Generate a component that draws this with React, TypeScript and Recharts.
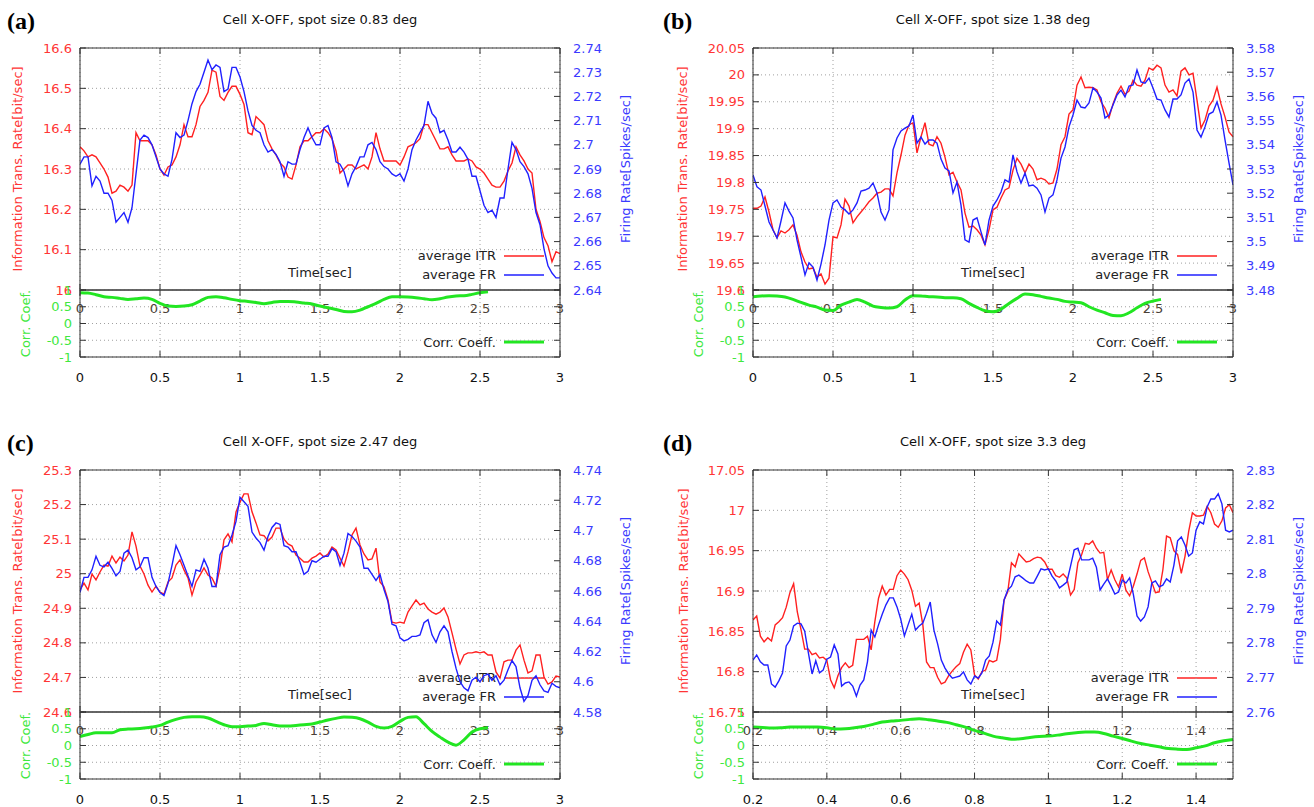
import React from "react";
import { LineChart, Line, XAxis, YAxis, CartesianGrid } from "recharts";

// information transmission rate vs firing rate, 4 spot sizes
const A_ITR = [
  16.355, 16.345, 16.33, 16.335, 16.33, 16.315, 16.3, 16.28, 16.24, 16.245,
  16.26, 16.255, 16.245, 16.26, 16.39, 16.37, 16.37, 16.37, 16.36, 16.335,
  16.3, 16.285, 16.305, 16.31, 16.33, 16.36, 16.41, 16.38, 16.38, 16.41,
  16.455, 16.47, 16.49, 16.545, 16.54, 16.48, 16.47, 16.49, 16.505, 16.505,
  16.485, 16.46, 16.39, 16.385, 16.43, 16.42, 16.41, 16.37, 16.35, 16.335,
  16.315, 16.305, 16.28, 16.275, 16.31, 16.355, 16.37, 16.37, 16.38, 16.39,
  16.39, 16.4, 16.39, 16.375, 16.345, 16.29, 16.3, 16.31, 16.31, 16.3,
  16.305, 16.31, 16.3, 16.33, 16.39, 16.35, 16.32, 16.32, 16.32, 16.32,
  16.31, 16.33, 16.355, 16.36, 16.365, 16.375, 16.41, 16.41, 16.39, 16.37,
  16.35, 16.35, 16.355, 16.335, 16.32, 16.32, 16.32, 16.325, 16.32, 16.305,
  16.3, 16.29, 16.275, 16.26, 16.255, 16.255, 16.27, 16.295, 16.315, 16.355,
  16.335, 16.32, 16.3, 16.29, 16.2, 16.17, 16.13, 16.11, 16.07, 16.095, 16.09,
];
const A_FR = [
  2.692, 2.695, 2.695, 2.683, 2.687, 2.685, 2.68, 2.68, 2.677, 2.668,
  2.67, 2.672, 2.668, 2.674, 2.688, 2.702, 2.704, 2.703, 2.7, 2.695,
  2.69, 2.688, 2.687, 2.694, 2.705, 2.703, 2.704, 2.71, 2.717, 2.722,
  2.725, 2.73, 2.735, 2.731, 2.733, 2.732, 2.722, 2.723, 2.732, 2.732,
  2.728, 2.722, 2.714, 2.708, 2.706, 2.705, 2.7, 2.697, 2.698, 2.696,
  2.693, 2.687, 2.693, 2.692, 2.692, 2.698, 2.703, 2.707, 2.703, 2.7,
  2.7, 2.707, 2.708, 2.703, 2.693, 2.692, 2.689, 2.683, 2.688, 2.691,
  2.695, 2.695, 2.7, 2.701, 2.698, 2.693, 2.691, 2.69, 2.688, 2.687,
  2.688, 2.685, 2.69, 2.698, 2.702, 2.705, 2.708, 2.718, 2.713, 2.711,
  2.705, 2.706, 2.702, 2.697, 2.697, 2.699, 2.697, 2.694, 2.687, 2.687,
  2.681, 2.675, 2.672, 2.673, 2.67, 2.678, 2.678, 2.69, 2.701, 2.698,
  2.693, 2.691, 2.688, 2.682, 2.672, 2.667, 2.657, 2.65, 2.647, 2.645, 2.645,
];
const A_CORR = [
  0.92, 0.91, 0.86, 0.8, 0.78, 0.75, 0.72, 0.74, 0.76, 0.72,
  0.6, 0.52, 0.51, 0.52, 0.56, 0.67, 0.78, 0.8, 0.77, 0.72,
  0.68, 0.66, 0.63, 0.59, 0.63, 0.66, 0.66, 0.64, 0.61, 0.58,
  0.52, 0.47, 0.42, 0.36, 0.35, 0.4, 0.5, 0.6, 0.72, 0.8,
  0.8, 0.79, 0.77, 0.74, 0.71, 0.74, 0.79, 0.82, 0.83, 0.87,
  0.92, 0.95,
];

const B_ITR = [
  19.752, 19.752, 19.756, 19.773, 19.745, 19.712, 19.697, 19.71, 19.706, 19.712,
  19.721, 19.702, 19.671, 19.652, 19.639, 19.641, 19.624, 19.63, 19.611, 19.622,
  19.699, 19.697, 19.721, 19.769, 19.756, 19.725, 19.736, 19.745, 19.754, 19.764,
  19.771, 19.78, 19.782, 19.788, 19.788, 19.775, 19.818, 19.851, 19.888, 19.907,
  19.911, 19.855, 19.885, 19.911, 19.871, 19.868, 19.885, 19.873, 19.847, 19.814,
  19.819, 19.801, 19.786, 19.743, 19.717, 19.719, 19.712, 19.702, 19.684, 19.712,
  19.749, 19.754, 19.771, 19.786, 19.79, 19.823, 19.845, 19.834, 19.818, 19.834,
  19.825, 19.805, 19.808, 19.805, 19.797, 19.799, 19.825, 19.87, 19.885, 19.927,
  19.935, 19.981, 19.996, 19.976, 19.977, 19.976, 19.972, 19.95, 19.938, 19.92,
  19.946, 19.966, 19.979, 19.964, 19.97, 19.99, 19.981, 19.979, 19.99, 20.013,
  20.009, 20.018, 20.013, 19.981, 19.968, 19.972, 19.961, 20.007, 20.013, 20.0,
  20.003, 19.953, 19.901, 19.916, 19.942, 19.953, 19.977, 19.946, 19.922, 19.894, 19.885,
];
const B_FR = [
  3.5275, 3.5226, 3.5213, 3.5147, 3.5081, 3.5048, 3.5015, 3.5085, 3.516, 3.5126,
  3.5098, 3.5007, 3.4936, 3.4862, 3.4912, 3.4895, 3.4841, 3.4907, 3.4986, 3.5089,
  3.516, 3.5172, 3.5143, 3.5131, 3.5114, 3.5131, 3.516, 3.5209, 3.5213, 3.5221,
  3.5242, 3.5201, 3.5122, 3.5089, 3.5131, 3.5379, 3.5428, 3.5457, 3.5469, 3.5478,
  3.5523, 3.5407, 3.5432, 3.5403, 3.542, 3.542, 3.5407, 3.5341, 3.5304, 3.5292,
  3.5201, 3.5246, 3.5151, 3.5007, 3.4998, 3.5089, 3.5098, 3.504, 3.4986, 3.5089,
  3.5147, 3.5172, 3.5205, 3.5255, 3.5246, 3.5358, 3.5288, 3.5242, 3.5283, 3.523,
  3.5234, 3.5221, 3.5193, 3.5122, 3.518, 3.5193, 3.5255, 3.5345, 3.5391, 3.5474,
  3.5523, 3.5585, 3.5556, 3.5552, 3.5573, 3.5635, 3.5618, 3.5593, 3.5511, 3.5523,
  3.5564, 3.5606, 3.5626, 3.5598, 3.5643, 3.5647, 3.5709, 3.566, 3.5655, 3.5676,
  3.5635, 3.5589, 3.5585, 3.5544, 3.5515, 3.5589, 3.5589, 3.5606, 3.5655, 3.5672,
  3.5618, 3.5461, 3.5432, 3.5474, 3.5527, 3.5536, 3.5577, 3.5523, 3.542, 3.5325, 3.5234,
];
const B_CORR = [
  0.8, 0.82, 0.83, 0.82, 0.79, 0.72, 0.63, 0.55, 0.49, 0.4,
  0.39, 0.55, 0.64, 0.72, 0.64, 0.52, 0.48, 0.46, 0.5, 0.7,
  0.83, 0.82, 0.8, 0.79, 0.77, 0.77, 0.74, 0.6, 0.48, 0.38,
  0.35, 0.43, 0.6, 0.75, 0.88, 0.86, 0.81, 0.76, 0.72, 0.66,
  0.64, 0.62, 0.5, 0.4, 0.32, 0.24, 0.23, 0.32, 0.47, 0.6,
  0.67, 0.72,
];

const C_ITR = [
  24.953, 24.973, 24.953, 24.999, 24.982, 25.005, 25.025, 25.022, 25.051, 25.031,
  25.048, 25.037, 25.054, 25.121, 25.08, 25.022, 24.999, 24.967, 24.947, 24.964,
  24.947, 24.941, 24.976, 24.988, 25.025, 25.04, 25.011, 24.988, 24.938, 24.976,
  24.996, 25.017, 24.996, 24.988, 24.964, 25.017, 25.098, 25.115, 25.092, 25.179,
  25.207, 25.231, 25.231, 25.179, 25.147, 25.112, 25.11, 25.095, 25.106, 25.132,
  25.132, 25.1, 25.086, 25.08, 25.054, 25.045, 25.034, 25.034, 25.045, 25.051,
  25.06, 25.048, 25.057, 25.077, 25.069, 25.045, 25.022, 25.063, 25.112, 25.132,
  25.083, 25.057, 25.04, 25.043, 25.074, 24.976, 24.962, 24.924, 24.86, 24.857,
  24.86, 24.857, 24.889, 24.907, 24.924, 24.91, 24.915, 24.898, 24.889, 24.883,
  24.889, 24.901, 24.875, 24.829, 24.782, 24.739, 24.765, 24.771, 24.771, 24.774,
  24.771, 24.774, 24.765, 24.765, 24.716, 24.698, 24.745, 24.75, 24.75, 24.779,
  24.794, 24.75, 24.713, 24.719, 24.765, 24.765, 24.701, 24.681, 24.687, 24.704, 24.701,
];
const C_FR = [
  4.659, 4.669, 4.669, 4.674, 4.683, 4.677, 4.676, 4.679, 4.675, 4.67,
  4.673, 4.685, 4.687, 4.682, 4.674, 4.676, 4.682, 4.682, 4.669, 4.663,
  4.659, 4.657, 4.665, 4.677, 4.69, 4.684, 4.677, 4.67, 4.663, 4.674,
  4.673, 4.681, 4.675, 4.663, 4.663, 4.684, 4.689, 4.69, 4.697, 4.706,
  4.722, 4.719, 4.716, 4.699, 4.695, 4.692, 4.687, 4.696, 4.702, 4.705,
  4.704, 4.69, 4.689, 4.686, 4.686, 4.679, 4.671, 4.673, 4.68, 4.679,
  4.681, 4.683, 4.683, 4.688, 4.686, 4.677, 4.685, 4.698, 4.696, 4.693,
  4.689, 4.675, 4.675, 4.671, 4.667, 4.671, 4.661, 4.653, 4.638, 4.637,
  4.629, 4.627, 4.628, 4.63, 4.63, 4.631, 4.639, 4.641, 4.631, 4.626,
  4.633, 4.637, 4.633, 4.62, 4.609, 4.6, 4.596, 4.594, 4.601, 4.603,
  4.6, 4.604, 4.605, 4.601, 4.604, 4.598, 4.601, 4.608, 4.614, 4.61,
  4.596, 4.587, 4.591, 4.601, 4.604, 4.598, 4.594, 4.593, 4.599, 4.597, 4.596,
];
const C_CORR = [
  0.27, 0.33, 0.38, 0.38, 0.38, 0.47, 0.49, 0.5, 0.52, 0.55,
  0.6, 0.7, 0.78, 0.84, 0.86, 0.86, 0.82, 0.72, 0.62, 0.56,
  0.56, 0.58, 0.6, 0.66, 0.62, 0.58, 0.58, 0.6, 0.62, 0.64,
  0.7, 0.76, 0.81, 0.85, 0.84, 0.8, 0.7, 0.57, 0.52, 0.57,
  0.72, 0.84, 0.86, 0.65, 0.42, 0.25, 0.1, 0.01, 0.17, 0.4,
  0.5, 0.53,
];

const D_ITR = [
  16.864, 16.869, 16.844, 16.837, 16.842, 16.838, 16.858, 16.862, 16.867, 16.88,
  16.898, 16.909, 16.874, 16.852, 16.828, 16.828, 16.821, 16.823, 16.817, 16.818,
  16.814, 16.79, 16.78, 16.795, 16.805, 16.811, 16.805, 16.808, 16.84, 16.84,
  16.84, 16.844, 16.827, 16.862, 16.891, 16.906, 16.895, 16.902, 16.902, 16.919,
  16.926, 16.921, 16.914, 16.901, 16.881, 16.885, 16.858, 16.812, 16.805, 16.805,
  16.793, 16.785, 16.787, 16.795, 16.801, 16.806, 16.81, 16.824, 16.834, 16.827,
  16.796, 16.791, 16.8, 16.802, 16.814, 16.812, 16.814, 16.84, 16.889, 16.899,
  16.935, 16.93, 16.946, 16.941, 16.936, 16.937, 16.94, 16.942, 16.941, 16.936,
  16.927, 16.927, 16.919, 16.917, 16.921, 16.916, 16.895, 16.902, 16.935, 16.945,
  16.959, 16.958, 16.962, 16.953, 16.947, 16.948, 16.914, 16.926, 16.914, 16.905,
  16.921, 16.901, 16.894, 16.906, 16.921, 16.938, 16.941, 16.924, 16.911, 16.898,
  16.899, 16.926, 16.968, 16.966, 16.95, 16.945, 16.922, 16.943, 16.974, 16.997,
  16.993, 16.993, 16.994, 17.005, 16.997, 16.983, 16.979, 16.987, 17.003, 17.007, 16.997,
];
const D_FR = [
  2.775, 2.7765, 2.7745, 2.7736, 2.7736, 2.7681, 2.7672, 2.769, 2.7713, 2.7791,
  2.7808, 2.7849, 2.7857, 2.7855, 2.7834, 2.7771, 2.771, 2.7748, 2.7713, 2.7721,
  2.7753, 2.7759, 2.7794, 2.7768, 2.7675, 2.7684, 2.7687, 2.7675, 2.7646, 2.7678,
  2.7693, 2.7745, 2.7837, 2.7817, 2.7852, 2.7883, 2.791, 2.793, 2.793, 2.7904,
  2.7869, 2.782, 2.7852, 2.7883, 2.7837, 2.7849, 2.7857, 2.7886, 2.7918, 2.7837,
  2.7797, 2.775, 2.7727, 2.771, 2.7698, 2.7701, 2.7704, 2.7716, 2.7693, 2.7681,
  2.7704, 2.7698, 2.7713, 2.775, 2.7762, 2.7802, 2.7863, 2.7852, 2.7924, 2.7953,
  2.7964, 2.7991, 2.7996, 2.7988, 2.7979, 2.7973, 2.7973, 2.7993, 2.8014, 2.8011,
  2.8014, 2.7993, 2.7979, 2.7959, 2.7967, 2.7976, 2.8022, 2.8069, 2.8074, 2.804,
  2.804, 2.804, 2.8045, 2.8019, 2.7953, 2.797, 2.7985, 2.7964, 2.7941, 2.7947,
  2.7982, 2.7973, 2.7988, 2.7941, 2.7878, 2.7863, 2.7875, 2.7904, 2.7973, 2.7979,
  2.7962, 2.7967, 2.7985, 2.7976, 2.8025, 2.8095, 2.8106, 2.8083, 2.8051, 2.806,
  2.8126, 2.815, 2.8144, 2.8193, 2.8216, 2.8216, 2.8231, 2.8202, 2.8126, 2.8121, 2.8126,
];
const D_CORR = [
  0.55, 0.54, 0.52, 0.53, 0.55, 0.55, 0.55, 0.55, 0.53, 0.49,
  0.5, 0.53, 0.57, 0.63, 0.7, 0.73, 0.75, 0.78, 0.8, 0.77,
  0.73, 0.69, 0.62, 0.55, 0.45, 0.37, 0.28, 0.23, 0.19, 0.2,
  0.24, 0.27, 0.28, 0.31, 0.35, 0.38, 0.4, 0.4, 0.36, 0.28,
  0.21, 0.13, 0.06, 0.01, -0.04, -0.09, -0.11, -0.12, -0.07, -0.01,
  0.08, 0.14, 0.18,
];

// tick labels
const X_TICKS_3 = [0, 0.5, 1, 1.5, 2, 2.5, 3];
const X_TICKS_D = [0.2, 0.4, 0.6, 0.8, 1, 1.2, 1.4];
const CORR_TICKS = [-1, -0.5, 0, 0.5, 1];
const A_LEFT = [16, 16.1, 16.2, 16.3, 16.4, 16.5, 16.6];
const A_RIGHT = [2.64, 2.65, 2.66, 2.67, 2.68, 2.69, 2.7, 2.71, 2.72, 2.73, 2.74];
const B_LEFT = [19.6, 19.65, 19.7, 19.75, 19.8, 19.85, 19.9, 19.95, 20, 20.05];
const B_RIGHT = [3.48, 3.49, 3.5, 3.51, 3.52, 3.53, 3.54, 3.55, 3.56, 3.57, 3.58];
const C_LEFT = [24.6, 24.7, 24.8, 24.9, 25, 25.1, 25.2, 25.3];
const C_RIGHT = [4.58, 4.6, 4.62, 4.64, 4.66, 4.68, 4.7, 4.72, 4.74];
const D_LEFT = [16.75, 16.8, 16.85, 16.9, 16.95, 17, 17.05];
const D_RIGHT = [2.76, 2.77, 2.78, 2.79, 2.8, 2.81, 2.82, 2.83];

const FONT = "'DejaVu Sans', Verdana, sans-serif";
const RED = "#ff2020";
const BLUE = "#2020ff";
const GREEN = "#22e622";
const RED_TXT = "#ff3535";
const BLUE_TXT = "#3a3aff";
const GREEN_TXT = "#40e840";
const FRAME = "#333";
const GRID = "#a0a0a0";

const PW = 480;
const PH = 242;
const CH = 67;

const fmt = (v: number) => String(+v.toFixed(3));

const bottomTick = (color: string, dy: number) => (p: any) => (
  <g>
    <line x1={p.x} x2={p.x} y1={p.y} y2={p.y - 6} stroke={FRAME} />
    <text x={p.x} y={p.y + dy} textAnchor="middle" fill={color} fontSize={13} fontFamily={FONT}>
      {fmt(p.payload.value)}
    </text>
  </g>
);
const topTick = (p: any) => <line x1={p.x} x2={p.x} y1={p.y} y2={p.y + 6} stroke={FRAME} />;
const leftTick = (color: string) => (p: any) => (
  <g>
    <line x1={p.x} x2={p.x + 6} y1={p.y} y2={p.y} stroke={FRAME} />
    <text x={p.x - 8} y={p.y + 4.5} textAnchor="end" fill={color} fontSize={13} fontFamily={FONT}>
      {fmt(p.payload.value)}
    </text>
  </g>
);
const rightTick = (color: string | null) => (p: any) => (
  <g>
    <line x1={p.x} x2={p.x - 6} y1={p.y} y2={p.y} stroke={FRAME} />
    {color ? (
      <text x={p.x + 13} y={p.y + 4.5} textAnchor="start" fill={color} fontSize={13} fontFamily={FONT}>
        {fmt(p.payload.value)}
      </text>
    ) : null}
  </g>
);

function Panel(props: any) {
  const { L, T, xStart, xStep, xDomain, xTicks, itr, fr, corrStep, corr, lDomain, lTicks, rDomain, rTicks } = props;
  const rows = itr.map((v: number, i: number) => ({ t: +(xStart + i * xStep).toFixed(4), itr: v, fr: fr[i] }));
  const corrRows = corr.map((v: number, i: number) => ({ t: +(xStart + i * corrStep).toFixed(4), c: v }));
  const axisLine = { stroke: FRAME, strokeWidth: 1 };

  return (
    <>
      <div style={{ position: "absolute", left: L - 80, top: T - 20 }}>
        <LineChart width={PW + 160} height={PH + 60} data={rows} margin={{ top: 10, right: 0, bottom: 0, left: 0 }}>
          <CartesianGrid xAxisId="b" yAxisId="l" stroke={GRID} strokeDasharray="1 3" />
          <XAxis xAxisId="b" dataKey="t" type="number" domain={xDomain} ticks={xTicks} interval={0} orientation="bottom"
            height={40} tickSize={0} tickMargin={0} tickLine={false} axisLine={axisLine} allowDataOverflow tick={bottomTick("#4a4036", 22.5)} />
          <XAxis xAxisId="t" dataKey="t" type="number" domain={xDomain} ticks={xTicks} interval={0} orientation="top"
            height={10} tickSize={0} tickMargin={0} tickLine={false} axisLine={axisLine} allowDataOverflow tick={topTick} />
          <YAxis yAxisId="l" type="number" domain={lDomain} ticks={lTicks} interval={0} width={80}
            tickSize={0} tickMargin={0} tickLine={false} axisLine={axisLine} allowDataOverflow tick={leftTick(RED_TXT)} />
          <YAxis yAxisId="r" orientation="right" type="number" domain={rDomain} ticks={rTicks} interval={0} width={80}
            tickSize={0} tickMargin={0} tickLine={false} axisLine={axisLine} allowDataOverflow tick={rightTick(BLUE_TXT)} />
          <Line xAxisId="b" yAxisId="l" type="linear" dataKey="itr" stroke={RED} strokeWidth={1.4} dot={false} isAnimationActive={false} />
          <Line xAxisId="b" yAxisId="r" type="linear" dataKey="fr" stroke={BLUE} strokeWidth={1.4} dot={false} isAnimationActive={false} />
        </LineChart>
      </div>
      <div style={{ position: "absolute", left: L - 80, top: T + PH - 10 }}>
        <LineChart width={PW + 160} height={CH + 50} data={corrRows} margin={{ top: 0, right: 0, bottom: 0, left: 0 }}>
          <CartesianGrid xAxisId="b" yAxisId="l" stroke={GRID} strokeDasharray="1 3" />
          <XAxis xAxisId="b" dataKey="t" type="number" domain={xDomain} ticks={xTicks} interval={0} orientation="bottom"
            height={40} tickSize={0} tickMargin={0} tickLine={false} axisLine={axisLine} allowDataOverflow tick={bottomTick("#111", 25)} />
          <XAxis xAxisId="t" dataKey="t" type="number" domain={xDomain} ticks={xTicks} interval={0} orientation="top"
            height={10} tickSize={0} tickMargin={0} tickLine={false} axisLine={axisLine} allowDataOverflow tick={topTick} />
          <YAxis yAxisId="l" type="number" domain={[-1, 1]} ticks={CORR_TICKS} interval={0} width={80}
            tickSize={0} tickMargin={0} tickLine={false} axisLine={axisLine} allowDataOverflow tick={leftTick(GREEN_TXT)} />
          <YAxis yAxisId="r" orientation="right" type="number" domain={[-1, 1]} ticks={CORR_TICKS} interval={0} width={80}
            tickSize={0} tickMargin={0} tickLine={false} axisLine={axisLine} allowDataOverflow tick={rightTick(null)} />
          <Line xAxisId="b" yAxisId="l" type="monotone" dataKey="c" stroke={GREEN} strokeWidth={3} dot={false} isAnimationActive={false} />
        </LineChart>
      </div>
    </>
  );
}

function PanelText(props: any) {
  const { L, T, tag, tagX, title, lLabelX, cLabelX, rLabelX } = props;
  const R = L + PW;
  const cx = L + PW / 2;
  const txt = { fontFamily: FONT, fontSize: 13 };
  return (
    <g>
      <text x={tagX} y={T - 19} fontFamily="'Liberation Serif', 'Times New Roman', serif" fontWeight="bold" fontSize={24} fill="#000">
        {tag}
      </text>
      <text x={cx} y={T - 24} textAnchor="middle" fill="#111" {...txt}>{title}</text>
      <text transform={`translate(${lLabelX},${T + PH / 2}) rotate(-90)`} textAnchor="middle" dominantBaseline="central" fill={RED_TXT} {...txt}>
        Information Trans. Rate[bit/sec]
      </text>
      <text transform={`translate(${cLabelX},${T + PH + CH / 2}) rotate(-90)`} textAnchor="middle" dominantBaseline="central" fill={GREEN_TXT} {...txt}>
        Corr. Coef.
      </text>
      <text transform={`translate(${rLabelX},${T + PH / 2}) rotate(-90)`} textAnchor="middle" dominantBaseline="central" fill={BLUE_TXT} {...txt}>
        Firing Rate[Spikes/sec]
      </text>
      <text x={cx} y={T + 229} textAnchor="middle" fill="#222" {...txt}>Time[sec]</text>
      <text x={R - 64} y={T + 212} textAnchor="end" fill="#222" {...txt}>average ITR</text>
      <line x1={R - 56} x2={R - 16} y1={T + 208} y2={T + 208} stroke={RED} strokeWidth={1.4} />
      <text x={R - 64} y={T + 231} textAnchor="end" fill="#222" {...txt}>average FR</text>
      <line x1={R - 56} x2={R - 16} y1={T + 227} y2={T + 227} stroke={BLUE} strokeWidth={1.4} />
      <text x={R - 64} y={T + PH + 57} textAnchor="end" fill="#222" {...txt}>Corr. Coeff.</text>
      <line x1={R - 56} x2={R - 16} y1={T + PH + 52} y2={T + PH + 52} stroke={GREEN} strokeWidth={3} />
    </g>
  );
}

const PANELS = [
  {
    L: 80, T: 48, tag: "(a)", tagX: 7, title: "Cell X-OFF, spot size 0.83 deg", lLabelX: 17, cLabelX: 25, rLabelX: 625,
    xStart: 0, xStep: 0.025, corrStep: 0.05, xDomain: [0, 3], xTicks: X_TICKS_3,
    itr: A_ITR, fr: A_FR, corr: A_CORR, lDomain: [16, 16.6], lTicks: A_LEFT, rDomain: [2.64, 2.74], rTicks: A_RIGHT,
  },
  {
    L: 753, T: 48, tag: "(b)", tagX: 663, title: "Cell X-OFF, spot size 1.38 deg", lLabelX: 682, cLabelX: 698, rLabelX: 1298,
    xStart: 0, xStep: 0.025, corrStep: 0.05, xDomain: [0, 3], xTicks: X_TICKS_3,
    itr: B_ITR, fr: B_FR, corr: B_CORR, lDomain: [19.6, 20.05], lTicks: B_LEFT, rDomain: [3.48, 3.58], rTicks: B_RIGHT,
  },
  {
    L: 80, T: 470, tag: "(c)", tagX: 7, title: "Cell X-OFF, spot size 2.47 deg", lLabelX: 17, cLabelX: 25, rLabelX: 625,
    xStart: 0, xStep: 0.025, corrStep: 0.05, xDomain: [0, 3], xTicks: X_TICKS_3,
    itr: C_ITR, fr: C_FR, corr: C_CORR, lDomain: [24.6, 25.3], lTicks: C_LEFT, rDomain: [4.58, 4.74], rTicks: C_RIGHT,
  },
  {
    L: 753, T: 470, tag: "(d)", tagX: 663, title: "Cell X-OFF, spot size 3.3 deg", lLabelX: 683, cLabelX: 698, rLabelX: 1298,
    xStart: 0.2, xStep: 0.01, corrStep: 0.025, xDomain: [0.2, 1.5], xTicks: X_TICKS_D,
    itr: D_ITR, fr: D_FR, corr: D_CORR, lDomain: [16.75, 17.05], lTicks: D_LEFT, rDomain: [2.76, 2.83], rTicks: D_RIGHT,
  },
];

export default function App() {
  return (
    <div style={{ position: "absolute", left: 0, top: 0, width: 1314, height: 807, background: "#fff", overflow: "hidden" }}>
      <svg width={1314} height={807} style={{ position: "absolute", left: 0, top: 0 }}>
        {PANELS.map((p) => (
          <PanelText key={p.tag} {...p} />
        ))}
      </svg>
      {PANELS.map((p) => (
        <Panel key={p.tag} {...p} />
      ))}
    </div>
  );
}
